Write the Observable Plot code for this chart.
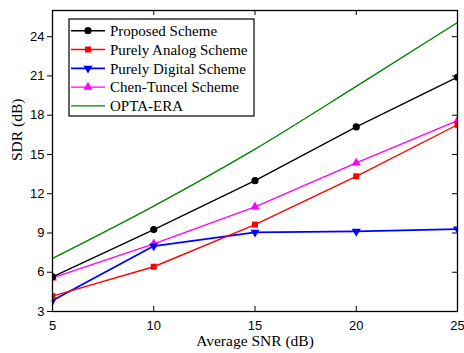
<!DOCTYPE html>
<html>
<head>
<meta charset="utf-8">
<script src="https://cdn.jsdelivr.net/npm/d3@7"></script>
<script src="https://cdn.jsdelivr.net/npm/@observablehq/plot@0.6"></script>
<style>
  html, body { margin: 0; padding: 0; background: #fff; }
  #chart { width: 464px; height: 353px; overflow: hidden; }
</style>
</head>
<body>
<div id="chart"></div>
<script>
// ---- data ----
const snr = [5, 10, 15, 20, 25];
const proposed   = [5.65, 9.26, 13.0, 17.1, 20.9];
const analog     = [4.17, 6.42, 9.64, 13.33, 17.27];
const digital    = [3.84, 8.0, 9.05, 9.12, 9.3];
const chenTuncel = [5.57, 8.17, 11.0, 14.35, 17.58];
const opta       = [7.05, 11.05, 15.4, 20.2, 25.08];

const seriesNames = ["Proposed Scheme", "Purely Analog Scheme", "Purely Digital Scheme", "Chen-Tuncel Scheme", "OPTA-ERA"];
const seriesValues = [proposed, analog, digital, chenTuncel, opta];
const seriesColors = ["#000000", "#ff0000", "#0000ff", "#ff00ff", "#008000"];
const seriesSymbols = ["circle", "square", "triangle", "triangle", null];
const seriesRotate = [0, 0, 180, 0, 0];

const xTicks = [5, 10, 15, 20, 25];
const yTicks = [3, 6, 9, 12, 15, 18, 21, 24];
const xLabel = "Average SNR (dB)";
const yLabel = "SDR (dB)";

// ---- layout ----
const W = 464, H = 353;
const mL = 52, mR = 7, mT = 10, mB = 42;
const fw = W - mL - mR, fh = H - mT - mB;
const tick = 5;

const rows = [];
seriesNames.forEach((name, i) => {
  snr.forEach((x, j) => rows.push({series: name, x, y: seriesValues[i][j], i}));
});

const marks = [];
// inward ticks (bottom, top, right)
marks.push(Plot.ruleX(xTicks, {insetTop: fh - tick, stroke: "#000", strokeWidth: 1}));
marks.push(Plot.ruleX(xTicks, {insetBottom: fh - tick, stroke: "#000", strokeWidth: 1}));
marks.push(Plot.ruleY(yTicks, {insetLeft: fw - tick, stroke: "#000", strokeWidth: 1}));

// lines (draw in reverse order so Proposed on top)
[4, 3, 2, 1, 0].forEach(i => {
  marks.push(Plot.line(rows.filter(d => d.i === i), {
    x: "x", y: "y", stroke: seriesColors[i],
    strokeWidth: i === 2 ? 1.8 : 1.4,
    curve: i === 4 ? "monotone-x" : "linear"
  }));
});
[3, 2, 1, 0].forEach(i => {
  marks.push(Plot.dot(rows.filter(d => d.i === i), {
    x: "x", y: "y", fill: seriesColors[i], stroke: "none",
    symbol: seriesSymbols[i], rotate: seriesRotate[i],
    r: i === 0 ? 3.6 : 3.4, clip: "frame"
  }));
});

marks.push(Plot.frame({stroke: "#000", strokeWidth: 1.3}));
marks.push(Plot.axisY(yTicks, {tickSize: tick, tickPadding: 3, label: null, fontSize: 13}));
marks.push(Plot.axisX(xTicks, {tickSize: 0, tickPadding: 9, label: null, fontSize: 13}));
marks.push(Plot.text([xLabel], {frameAnchor: "bottom", dy: 34, fontFamily: "Liberation Serif", fontSize: 15.5, fill: "#000"}));
marks.push(Plot.text([yLabel], {frameAnchor: "left", dx: -35, rotate: -90, fontFamily: "Liberation Serif", fontSize: 15.5, fill: "#000"}));

const chart = Plot.plot({
  width: W, height: H,
  marginLeft: mL, marginRight: mR, marginTop: mT, marginBottom: mB,
  x: {domain: [5, 25]},
  y: {domain: [3, 26]},
  style: {fontFamily: "Liberation Sans", fontSize: "13px", color: "#000", background: "#fff", overflow: "visible"},
  marks
});

// ---- legend (inside plot area) ----
const svg = d3.select(chart);
const lg = svg.append("g").attr("transform", "translate(69,19)").attr("text-anchor", "start");
const rowH = 18.8, boxW = 185, boxH = 97;
lg.append("rect").attr("width", boxW).attr("height", boxH)
  .attr("fill", "#fff").attr("stroke", "#000").attr("stroke-width", 1.2);
const symMap = {circle: d3.symbolCircle, square: d3.symbolSquare, triangle: d3.symbolTriangle};
seriesNames.forEach((name, i) => {
  const y = 11.7 + i * rowH;
  const g = lg.append("g").attr("transform", `translate(0,${y})`);
  g.append("line").attr("x1", 2).attr("x2", 36).attr("stroke", seriesColors[i])
    .attr("stroke-width", i === 2 ? 1.8 : 1.4);
  if (seriesSymbols[i]) {
    const r = i === 0 ? 3.6 : 3.4;
    g.append("path").attr("d", d3.symbol(symMap[seriesSymbols[i]], Math.PI * r * r)())
      .attr("fill", seriesColors[i])
      .attr("transform", `translate(19,0) rotate(${seriesRotate[i]})`);
  }
  g.append("text").attr("x", 41).attr("dy", "0.35em").attr("text-anchor", "start")
    .attr("font-family", "Liberation Serif").attr("font-size", 15).attr("fill", "#000")
    .text(name);
});

document.getElementById("chart").appendChild(chart);
</script>
</body>
</html>
